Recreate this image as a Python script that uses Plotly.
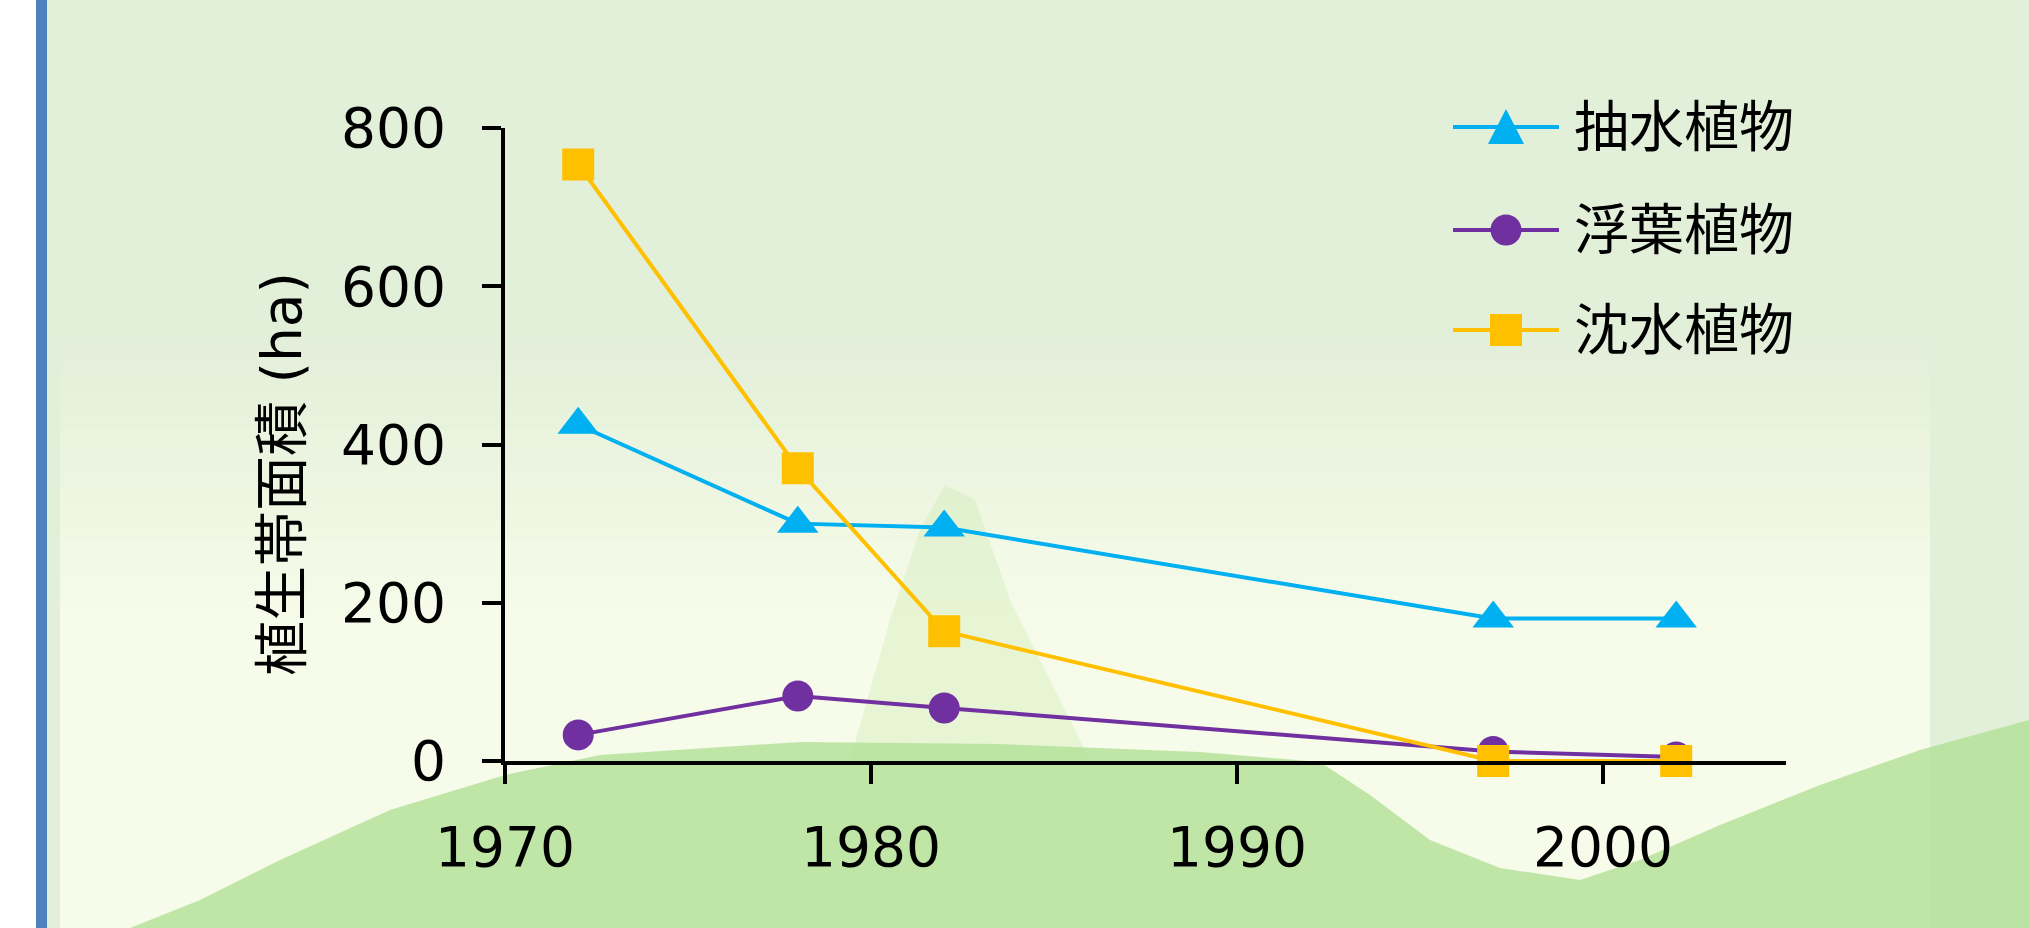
import plotly.graph_objects as go

# ---- data ----
years = [1972, 1978, 1982, 1997, 2002]
emergent = [425, 300, 295, 180, 180]      # 抽水植物
floating = [33, 82, 67, 12, 5]            # 浮葉植物
submerged = [754, 370, 164, 0, 0]         # 沈水植物
series_names = ["抽水植物", "浮葉植物", "沈水植物"]
x_ticks = [1970, 1980, 1990, 2000]
y_ticks = [0, 200, 400, 600, 800]
y_title = "植生帯面積 (ha)"

# ---- style ----
colors = ["#00B0F0", "#7030A0", "#FFC000"]
symbols = ["triangle-up", "circle", "square"]
sizes = [36, 31, 32]

W, H = 2029, 928
L, R, T, B = 505, 1786, 128, 761

def px(x):
    return (x - L) / (R - L)

def py(y):
    return (B - y) / (B - T)

FONT = "DejaVu Sans, Noto Sans CJK JP, sans-serif"

fig = go.Figure()
for name, vals, col, sym, sz in zip(series_names, [emergent, floating, submerged], colors, symbols, sizes):
    fig.add_trace(go.Scatter(x=years, y=vals, name=name, mode="lines+markers",
                             line=dict(color=col, width=4),
                             marker=dict(symbol=sym, size=sz, color=col),
                             cliponaxis=False, showlegend=False))

def path(points):
    return "M " + " L ".join("%f,%f" % (px(a), py(b)) for a, b in points) + " Z"

shapes = []
# background gradient bands (decoration)
top_c = (226, 239, 217)
mid_c = (247, 252, 234)
n = 24
for i in range(n):
    y0 = 320 + i * (440 / n)
    y1 = y0 + 440 / n + 1
    t = min(1.0, i / (n * 0.65))
    c = tuple(int(top_c[k] + (mid_c[k] - top_c[k]) * t) for k in range(3))
    shapes.append(dict(type="rect", xref="paper", yref="paper", layer="below",
                       x0=px(60), x1=px(1930), y0=py(y1), y1=py(y0),
                       fillcolor="rgb(%d,%d,%d)" % c, line=dict(width=0)))
shapes.append(dict(type="rect", xref="paper", yref="paper", layer="below",
                   x0=px(60), x1=px(1930), y0=py(H), y1=py(759),
                   fillcolor="rgb(247,252,234)", line=dict(width=0)))
# faint fin
fin = [(850, 760), (890, 620), (920, 530), (945, 485), (975, 500), (1010, 600), (1090, 760)]
shapes.append(dict(type="path", xref="paper", yref="paper", layer="below",
                   path=path(fin), fillcolor="rgba(200,232,175,0.35)", line=dict(width=0)))
# green body at bottom
body = [(130, 928), (200, 900), (280, 860), (390, 810), (505, 775), (600, 755), (800, 742),
        (1000, 744), (1200, 752), (1320, 762), (1370, 795), (1430, 840), (1500, 868),
        (1580, 880), (1640, 860), (1720, 825), (1820, 785), (1920, 750), (2029, 720), (2029, 928)]
shapes.append(dict(type="path", xref="paper", yref="paper", layer="below",
                   path=path(body), fillcolor="rgba(178,224,150,0.8)", line=dict(width=0)))
# white strip and blue bar at left
shapes.append(dict(type="rect", xref="paper", yref="paper", layer="below",
                   x0=px(0), x1=px(36), y0=py(H), y1=py(0),
                   fillcolor="#FFFFFF", line=dict(width=0)))
shapes.append(dict(type="rect", xref="paper", yref="paper", layer="below",
                   x0=px(36), x1=px(47), y0=py(H), y1=py(0),
                   fillcolor="#4F81BD", line=dict(width=0)))

# ---- legend (drawn as layout shapes + annotations) ----
annotations = []
leg_rows = [127, 230, 330]
lx0, lx1, lmx, ltx = 1453, 1559, 1506, 1572
for name, col, sym, yy in zip(series_names, colors, symbols, leg_rows):
    shapes.append(dict(type="line", xref="paper", yref="paper", layer="above",
                       x0=px(lx0), x1=px(lx1), y0=py(yy), y1=py(yy),
                       line=dict(color=col, width=4)))
    if sym == "triangle-up":
        tri = [(lmx - 18, yy + 17), (lmx + 18, yy + 17), (lmx, yy - 18)]
        shapes.append(dict(type="path", xref="paper", yref="paper", layer="above",
                           path=path(tri), fillcolor=col, line=dict(width=0)))
    elif sym == "circle":
        shapes.append(dict(type="circle", xref="paper", yref="paper", layer="above",
                           x0=px(lmx - 15.5), x1=px(lmx + 15.5), y0=py(yy + 15.5), y1=py(yy - 15.5),
                           fillcolor=col, line=dict(width=0)))
    else:
        shapes.append(dict(type="rect", xref="paper", yref="paper", layer="above",
                           x0=px(lmx - 16), x1=px(lmx + 16), y0=py(yy + 16), y1=py(yy - 16),
                           fillcolor=col, line=dict(width=0)))
    annotations.append(dict(text=name, xref="paper", yref="paper", x=px(ltx), y=py(yy),
                            xanchor="left", yanchor="middle", showarrow=False,
                            font=dict(family=FONT, size=55, color="#000000")))

annotations.append(dict(text=y_title, xref="paper", yref="paper", x=px(282), y=py(474),
                        xanchor="center", yanchor="middle", textangle=-90, showarrow=False,
                        font=dict(family=FONT, size=55, color="#000000")))

fig.update_layout(
    width=W, height=H,
    margin=dict(l=L, r=W - R, t=T, b=H - B, pad=0),
    paper_bgcolor="#E2EFD9",
    plot_bgcolor="rgba(0,0,0,0)",
    font=dict(family=FONT, size=55, color="#000000"),
    shapes=shapes,
    annotations=annotations,
    showlegend=False,
)
fig.update_xaxes(range=[1970, 2005], tickvals=x_ticks, ticks="outside", ticklen=19, tickwidth=3.5,
                 tickcolor="#000000", showline=True, linewidth=4, linecolor="#000000",
                 showgrid=False, zeroline=False, ticklabelstandoff=16,
                 tickfont=dict(family=FONT, size=55, color="#000000"))
fig.update_yaxes(range=[0, 800], tickvals=y_ticks, ticks="outside", ticklen=19, tickwidth=3.5,
                 tickcolor="#000000", showline=True, linewidth=4, linecolor="#000000",
                 showgrid=False, zeroline=False, ticklabelstandoff=25,
                 tickfont=dict(family=FONT, size=55, color="#000000"))

fig.write_html("out.html", config={"displayModeBar": False},
               post_script="document.body.style.margin='0px';")
